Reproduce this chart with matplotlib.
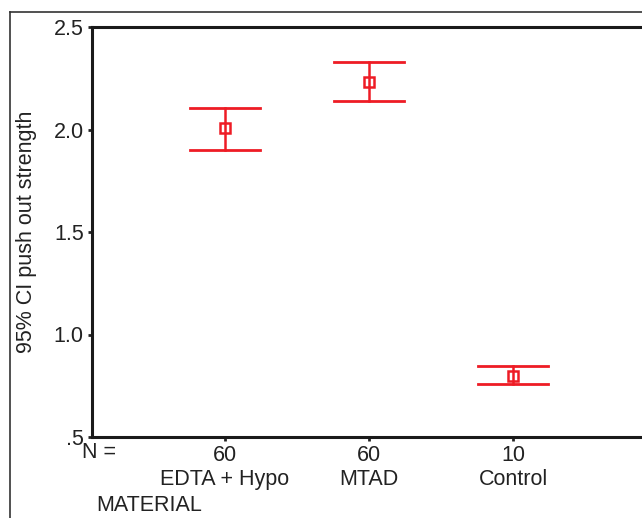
import matplotlib
matplotlib.use("Agg")
import matplotlib.pyplot as plt
from matplotlib.lines import Line2D

categories = ["EDTA + Hypo", "MTAD", "Control"]
n_values = [60, 60, 10]
means = [2.007, 2.232, 0.798]
upper = [2.105, 2.329, 0.844]
lower = [1.900, 2.139, 0.759]

plt.rcParams['font.family'] = ['Liberation Sans', 'DejaVu Sans']
red = '#ee1c25'
fs = 15.5

W, H = 642, 518
fig = plt.figure(figsize=(W / 100, H / 100), dpi=100)

# outer frame lines
fig.add_artist(Line2D([10 / W, 10 / W], [0, 1 - 12 / H], transform=fig.transFigure, color='#333333', lw=1.2))
fig.add_artist(Line2D([10 / W, 1], [1 - 12 / H, 1 - 12 / H], transform=fig.transFigure, color='#333333', lw=1.2))

left, right, top, bottom = 92, 646, 27, 437
ax = fig.add_axes([left / W, 1 - bottom / H, (right - left) / W, (bottom - top) / H])

x = [1, 2, 3]
px_per_cat = 144.0
ax.set_xlim(1 - (225 - left) / px_per_cat, 3 + (right - 513) / px_per_cat)
ax.set_ylim(0.5, 2.5)

for xi, m, lo, hi in zip(x, means, lower, upper):
    ax.plot([xi - 0.245, xi + 0.245], [hi, hi], color=red, lw=2)
    ax.plot([xi - 0.245, xi + 0.245], [lo, lo], color=red, lw=2)
    ax.plot([xi], [m], marker='s', ms=7, mfc='white', mec=red, mew=1.8, ls='none')
    ax.plot([xi, xi], [lo, hi], color=red, lw=1.8)

ax.set_yticks([0.5, 1.0, 1.5, 2.0, 2.5])
ax.set_yticklabels(['.5', '1.0', '1.5', '2.0', '2.5'])
ax.set_xticks(x)
ax.set_xticklabels([f"{n}\n{c}" for n, c in zip(n_values, categories)], linespacing=1.15)
ax.tick_params(axis='both', labelsize=fs, colors='#222222', width=2, length=3)
ax.tick_params(axis='x', pad=3)
ax.tick_params(axis='y', pad=3)

for s in ax.spines.values():
    s.set_linewidth(2.2)
    s.set_color('#1a1a1a')

ax.set_ylabel('95% CI push out strength', fontsize=fs, color='#222222', labelpad=12)

fig.text(82 / W, 1 - 453 / H, 'N =', fontsize=fs, color='#222222', va='center', ha='left')
fig.text(96 / W, 1 - 511 / H, 'MATERIAL', fontsize=fs, color='#222222', va='baseline', ha='left')

fig.savefig('out.png', dpi=100)
